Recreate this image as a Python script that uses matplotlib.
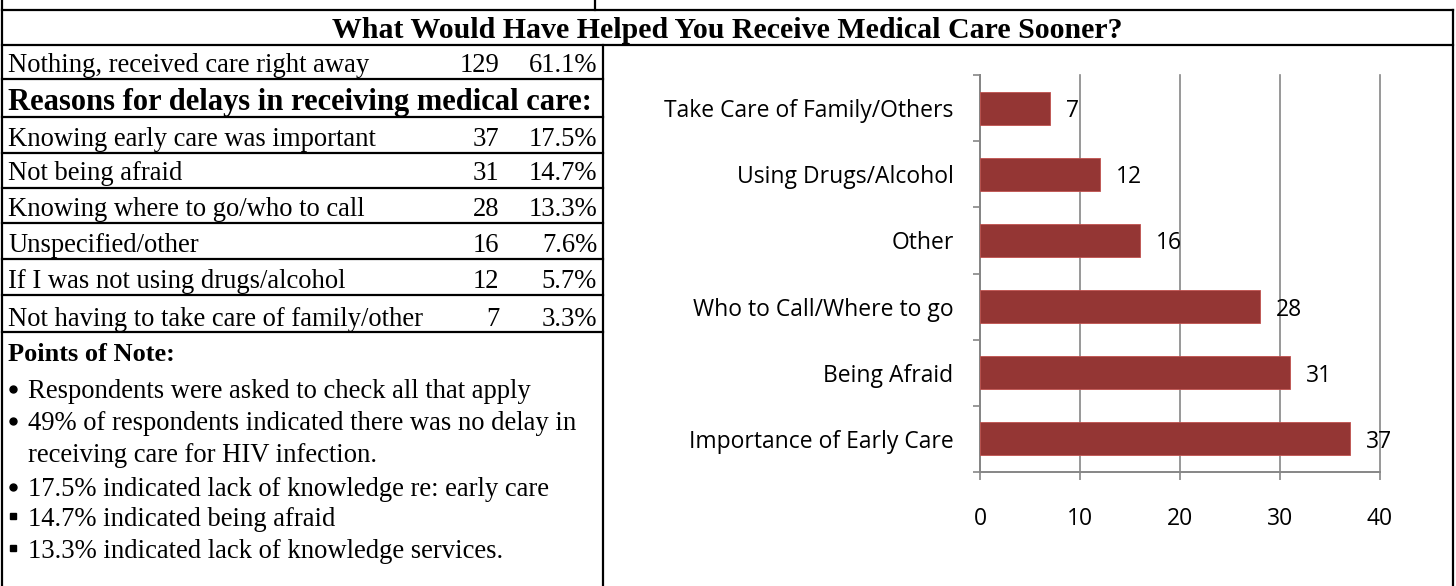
import matplotlib.pyplot as plt
from matplotlib.lines import Line2D

# ---- data ----
title = 'What Would Have Helped You Receive Medical Care Sooner?'
first_row = ('Nothing, received care right away', '129', '61.1%')
reasons_header = 'Reasons for delays in receiving medical care:'
reason_labels = ['Knowing early care was important', 'Not being afraid', 'Knowing where to go/who to call',
	'Unspecified/other', 'If I was not using drugs/alcohol', 'Not having to take care of family/other']
reason_counts = ['37', '31', '28', '16', '12', '7']
reason_pcts = ['17.5%', '14.7%', '13.3%', '7.6%', '5.7%', '3.3%']
notes_header = 'Points of Note:'
notes = ['Respondents were asked to check all that apply',
	'49% of respondents indicated there was no delay in',
	'receiving care for HIV infection.',
	'17.5% indicated lack of knowledge re: early care',
	'14.7% indicated being afraid',
	'13.3% indicated lack of knowledge services.']
note_bullets = ['o', 'o', '', 'o', 's', 's']

categories = ['Importance of Early Care', 'Being Afraid', 'Who to Call/Where to go', 'Other',
	'Using Drugs/Alcohol', 'Take Care of Family/Others']
values = [37, 31, 28, 16, 12, 7]
xticks = [0, 10, 20, 30, 40]

W, H = 1456, 586
fig = plt.figure(figsize=(W/100, H/100), dpi=100)

# pixel-space overlay for the table frame and text
ov = fig.add_axes([0, 0, 1, 1])
ov.set_xlim(0, W)
ov.set_ylim(H, 0)
ov.axis('off')

def hline(y, x0, x1, lw=1.6):
	ov.add_line(Line2D([x0, x1], [y, y], color='black', lw=lw))

def vline(x, y0, y1, lw=1.6):
	ov.add_line(Line2D([x, x], [y0, y1], color='black', lw=lw))

serif = 'Liberation Serif'
fs = 19.2

# frame
hline(10, 2, 1453)
hline(45, 2, 1453)
for y in [79, 117, 153, 188, 223, 259, 295, 332]:
	hline(y, 2, 603)
vline(2, 0, H)
vline(1453, 10, H)
vline(603, 45, H)
vline(595, 0, 10)

ov.text(727, 27, title, ha='center', va='center_baseline', family=serif, fontsize=21.5, fontweight='bold')

# table rows
ov.text(8, 63, first_row[0], va='center_baseline', family=serif, fontsize=fs)
ov.text(499, 63, first_row[1], va='center_baseline', ha='right', family=serif, fontsize=fs)
ov.text(597, 63, first_row[2], va='center_baseline', ha='right', family=serif, fontsize=fs)
ov.text(8, 99, reasons_header, va='center_baseline', family=serif, fontsize=22, fontweight='bold')
row_y = [136, 171, 207, 242, 278, 316]
for y, lab, c, p in zip(row_y, reason_labels, reason_counts, reason_pcts):
	ov.text(8, y, lab, va='center_baseline', family=serif, fontsize=fs)
	ov.text(499, y, c, va='center_baseline', ha='right', family=serif, fontsize=fs)
	ov.text(597, y, p, va='center_baseline', ha='right', family=serif, fontsize=fs)

ov.text(8, 352, notes_header, va='center_baseline', family=serif, fontsize=19, fontweight='bold')
note_y = [388, 420, 452, 486, 516, 548]
for y, b, txt in zip(note_y, note_bullets, notes):
	if b == 'o':
		ov.plot([13], [y + 1], 'o', color='black', ms=5)
	elif b == 's':
		ov.plot([13], [y], 's', color='black', ms=3.8)
	ov.text(28, y, txt, va='center_baseline', family=serif, fontsize=fs)

# bar chart
x0, x1, ytop, ybot = 980, 1380, 75, 472
ax = fig.add_axes([x0/W, 1 - ybot/H, (x1 - x0)/W, (ybot - ytop)/H])
pos = list(range(len(categories)))
ax.barh(pos, values, height=0.5, color='#943634', edgecolor='#c0504d', linewidth=0.6, zorder=3)
for p, v in zip(pos, values):
	ax.text(v + 1.6, p, str(v), va='center_baseline', ha='left', fontsize=16.5, family='Open Sans', zorder=4)
ax.set_xlim(0, 40)
ax.set_ylim(-0.5, len(categories) - 0.5)
ax.set_xticks(xticks)
ax.set_yticks(pos)
ax.set_yticklabels(categories)
ax.set_yticks([p - 0.5 for p in range(len(categories) + 1)], minor=True)
ax.tick_params(axis='y', which='major', length=0, pad=19, labelsize=16.5)
ax.tick_params(axis='y', which='minor', length=5, color='#868686', width=1.2)
ax.tick_params(axis='x', length=6, color='#868686', width=1.2, pad=19, labelsize=16.5)
for lab in ax.get_xticklabels() + ax.get_yticklabels():
	lab.set_family('Open Sans')
ax.grid(axis='x', color='#868686', lw=1.2, zorder=0)
for g in ax.get_xgridlines():
	g.set_clip_on(False)
for s in ['top', 'right']:
	ax.spines[s].set_visible(False)
for s in ['left', 'bottom']:
	ax.spines[s].set_color('#868686')
	ax.spines[s].set_linewidth(1.4)

plt.savefig('out.png', dpi=100)
